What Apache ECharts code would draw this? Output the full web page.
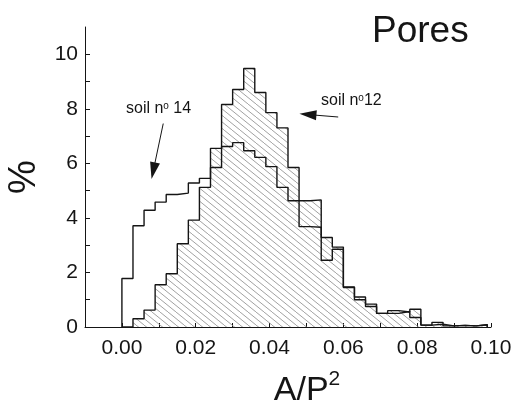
<!DOCTYPE html>
<html><head><meta charset="utf-8">
<script src="https://cdn.jsdelivr.net/npm/echarts@6/dist/echarts.min.js"></script>
<style>html,body{margin:0;padding:0;background:#fff}#c{width:518px;height:402px}</style>
</head><body><div id="c"></div>
<script>
// Histogram bins (A/P^2), left edges and common width
const binLeftEdges = [0.000,0.003,0.006,0.009,0.012,0.015,0.018,0.021,0.024,0.027,0.030,0.033,0.036,0.039,0.042,0.045,0.048,0.051,0.054,0.057,0.060,0.063,0.066,0.069,0.072,0.075,0.078,0.081,0.084,0.087,0.090,0.093,0.096];
const binWidth = 0.003;
// soil n°12 (hatched), %
const soil12 = [0,0.30,0.62,1.55,1.95,3.05,3.92,5.12,6.55,8.16,8.71,9.48,8.60,7.86,7.30,5.85,4.63,4.66,3.28,2.93,1.47,1.10,0.84,0.50,0.60,0.55,0.65,0.07,0.17,0.04,0.06,0.04,0.08];
// soil n°14 (outline), %
const soil14 = [1.78,3.71,4.28,4.58,4.86,4.91,5.28,5.45,5.85,6.62,6.76,6.46,6.22,5.88,5.12,4.63,3.68,3.66,2.45,2.85,1.45,1.00,0.75,0.50,0.50,0.57,0.35,0.07,0.10,0.04,0.06,0.04,0.08];
const xTickLabels = [0, 0.02, 0.04, 0.06, 0.08, 0.10];
const xTickMarks = [0, 0.01, 0.02, 0.03, 0.04, 0.05, 0.06, 0.07, 0.08, 0.09, 0.10];
const yTickLabels = [0, 2, 4, 6, 8, 10];
const yTickMarks = [0, 1, 2, 3, 4, 5, 6, 7, 8, 9, 10];
// annotation arrows in data coordinates: [tail, head]
const arrow14 = [[0.0112, 7.46], [0.0085, 5.73]];
const arrow12 = [[0.0586, 7.70], [0.0504, 7.79]];

const FONT = '"Liberation Sans", Arial, Helvetica, sans-serif';
const INK = '#151515';

function stepData(vals) {
  const pts = [[binLeftEdges[0], 0]];
  vals.forEach((v, i) => pts.push([binLeftEdges[i], v]));
  const end = binLeftEdges[vals.length - 1] + binWidth;
  pts.push([end, vals[vals.length - 1]]);
  pts.push([end, 0]);
  return pts;
}

function hatch() {
  const w = 16, h = 13;
  const c = document.createElement('canvas');
  c.width = w; c.height = h;
  const g = c.getContext('2d');
  g.strokeStyle = '#909090';
  g.lineWidth = 0.85;
  for (let o = -16; o <= 16; o += 8) {
    g.beginPath(); g.moveTo(o, 0); g.lineTo(o + w, h); g.stroke();
  }
  return c;
}

const chart = echarts.init(document.getElementById('c'), null, {renderer: 'canvas'});
const arrowLine = (a) => [
  {coord: a[0], symbol: 'none'},
  {coord: a[1], symbol: 'triangle', symbolSize: [10, 17]}
];

chart.setOption({
  animation: false,
  backgroundColor: '#fff',
  title: {
    text: 'Pores', left: 367, top: 8,
    textStyle: {fontFamily: FONT, fontSize: 37, fontWeight: 'normal', color: INK}
  },
  grid: {left: 85, right: 27, top: 27, bottom: 75, containLabel: false, outerBoundsMode: 'none'},
  xAxis: {
    type: 'value', min: -0.01, max: 0.1,
    name: 'A/P{sup|2}', nameLocation: 'middle', nameGap: 42,
    nameTextStyle: {fontFamily: FONT, fontSize: 34, color: INK, padding: [0, 0, 0, 38], lineHeight: 44,
      rich: {sup: {fontFamily: FONT, fontSize: 21, color: INK, verticalAlign: 'top', lineHeight: 22}}},
    axisLine: {onZero: false, lineStyle: {color: INK, width: 1}},
    axisTick: {inside: true, length: 4, lineStyle: {color: INK}, customValues: xTickMarks},
    axisLabel: {customValues: xTickLabels, fontFamily: FONT, fontSize: 21, color: INK, margin: 11,
      formatter: v => v.toFixed(2)},
    splitLine: {show: false}
  },
  yAxis: {
    type: 'value', min: 0, max: 11,
    name: '%', nameLocation: 'middle', nameRotate: 90, nameGap: 33,
    nameTextStyle: {fontFamily: FONT, fontSize: 38, color: INK},
    axisLine: {show: true, onZero: false, lineStyle: {color: INK, width: 1}},
    axisTick: {show: true, inside: true, length: 5, lineStyle: {color: INK}, customValues: yTickMarks},
    axisLabel: {customValues: yTickLabels, fontFamily: FONT, fontSize: 21, color: INK, margin: 7},
    splitLine: {show: false}
  },
  series: [
    {
      name: 'soil n°12', type: 'line', step: 'end', data: stepData(soil12),
      showSymbol: false, symbol: 'none',
      lineStyle: {color: INK, width: 1.4},
      areaStyle: {color: {image: hatch(), repeat: 'repeat'}, opacity: 1},
      z: 2,
      markLine: {
        silent: true, animation: false, label: {show: false},
        lineStyle: {color: INK, width: 1, type: 'solid'},
        itemStyle: {color: INK},
        data: [arrowLine(arrow12)]
      }
    },
    {
      name: 'soil n°14', type: 'line', step: 'end', data: stepData(soil14),
      showSymbol: false, symbol: 'none',
      lineStyle: {color: INK, width: 1.4},
      z: 3,
      markLine: {
        silent: true, animation: false, label: {show: false},
        lineStyle: {color: INK, width: 1, type: 'solid'},
        itemStyle: {color: INK},
        data: [arrowLine(arrow14)]
      }
    }
  ],
  graphic: [
    {type: 'text', left: 126, top: 101, silent: true,
      style: {text: 'soil n{o|o} 14', fontFamily: FONT, fontSize: 16, fill: INK,
        rich: {o: {fontFamily: FONT, fontSize: 10, fill: INK, verticalAlign: 'top'}}}},
    {type: 'text', left: 321, top: 93, silent: true,
      style: {text: 'soil n{o|o}12', fontFamily: FONT, fontSize: 16, fill: INK,
        rich: {o: {fontFamily: FONT, fontSize: 10, fill: INK, verticalAlign: 'top'}}}}
  ]
});
</script>
</body></html>
